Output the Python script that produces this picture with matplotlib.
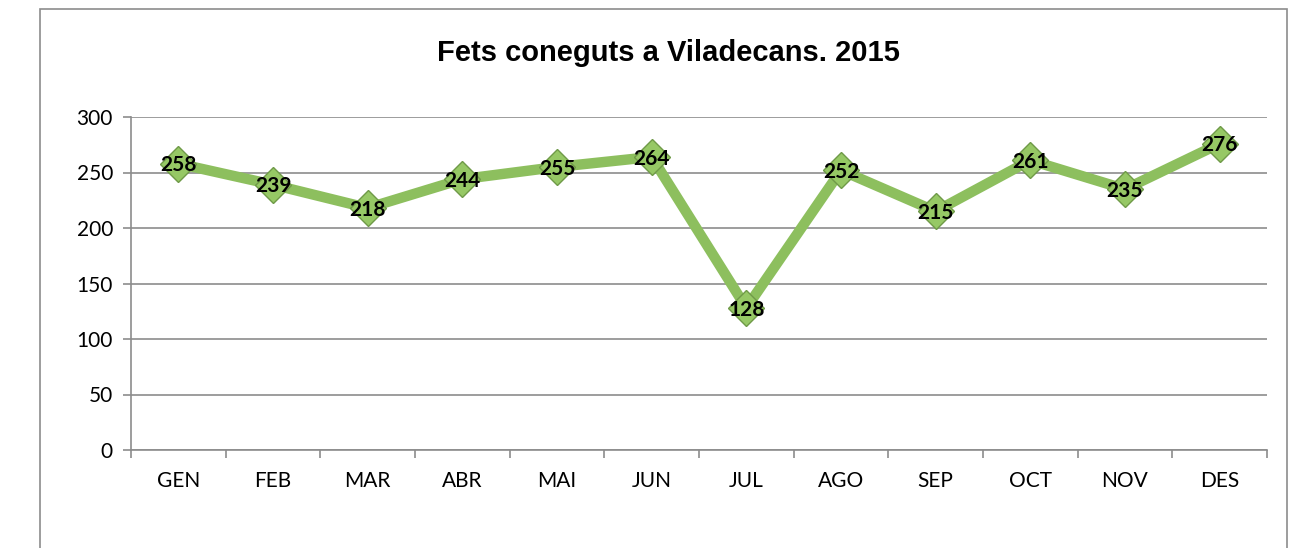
import matplotlib.pyplot as plt
from matplotlib.patches import Rectangle

months = ['GEN', 'FEB', 'MAR', 'ABR', 'MAI', 'JUN', 'JUL', 'AGO', 'SEP', 'OCT', 'NOV', 'DES']
fets = [258, 239, 218, 244, 255, 264, 128, 252, 215, 261, 235, 276]
yticks = [0, 50, 100, 150, 200, 250, 300]

fig = plt.figure(figsize=(12.99, 5.48), dpi=100)
ax = fig.add_axes([131 / 1299, 1 - 450 / 548, (1267 - 131) / 1299, (450 - 117) / 548])

# outer chart frame
fig.patches.append(Rectangle((40 / 1299, -0.1), (1287 - 40) / 1299, 1.1 - 9 / 548,
                             transform=fig.transFigure, fill=False,
                             edgecolor='#8c8c8c', linewidth=1.2))

x = list(range(len(months)))
ax.plot(x, fets, color='#8dbf5e', linewidth=7.5, solid_joinstyle='miter', zorder=3)
ax.plot(x, fets, linestyle='none', marker='D', markersize=18,
        markerfacecolor='#96c865', markeredgecolor='#6f9a48', markeredgewidth=1, zorder=4)
for xi, v in zip(x, fets):
    ax.text(xi, v - 1.5, str(v), ha='center', va='center', fontsize=15,
            fontweight='bold', family='Lato', color='black', zorder=5)

ax.set_xlim(-0.5, len(months) - 0.5)
ax.set_ylim(0, 300)
ax.set_yticks(yticks)
ax.set_yticklabels([str(t) for t in yticks], family='Lato', fontsize=15)
ax.set_xticks(x)
ax.set_xticklabels(months, family='Lato', fontsize=15)
ax.set_xticks([i - 0.5 for i in range(len(months) + 1)], minor=True)
ax.tick_params(axis='x', which='major', length=0, pad=15)
ax.tick_params(axis='x', which='minor', length=6, width=1.2, color='#8c8c8c', direction='out')
ax.tick_params(axis='y', length=6, width=1.2, color='#8c8c8c', direction='out', pad=7)
ax.grid(axis='y', color='#8c8c8c', linewidth=1.2, zorder=0)
ax.set_axisbelow(True)
for s in ['top', 'right']:
    ax.spines[s].set_visible(False)
for s in ['left', 'bottom']:
    ax.spines[s].set_color('#8c8c8c')
    ax.spines[s].set_linewidth(1.2)

fig.text(668 / 1299, 1 - 53 / 548, 'Fets coneguts a Viladecans. 2015', ha='center', va='center',
         fontsize=21, fontweight='bold', family='Liberation Sans')

fig.savefig('out.png', dpi=100)
